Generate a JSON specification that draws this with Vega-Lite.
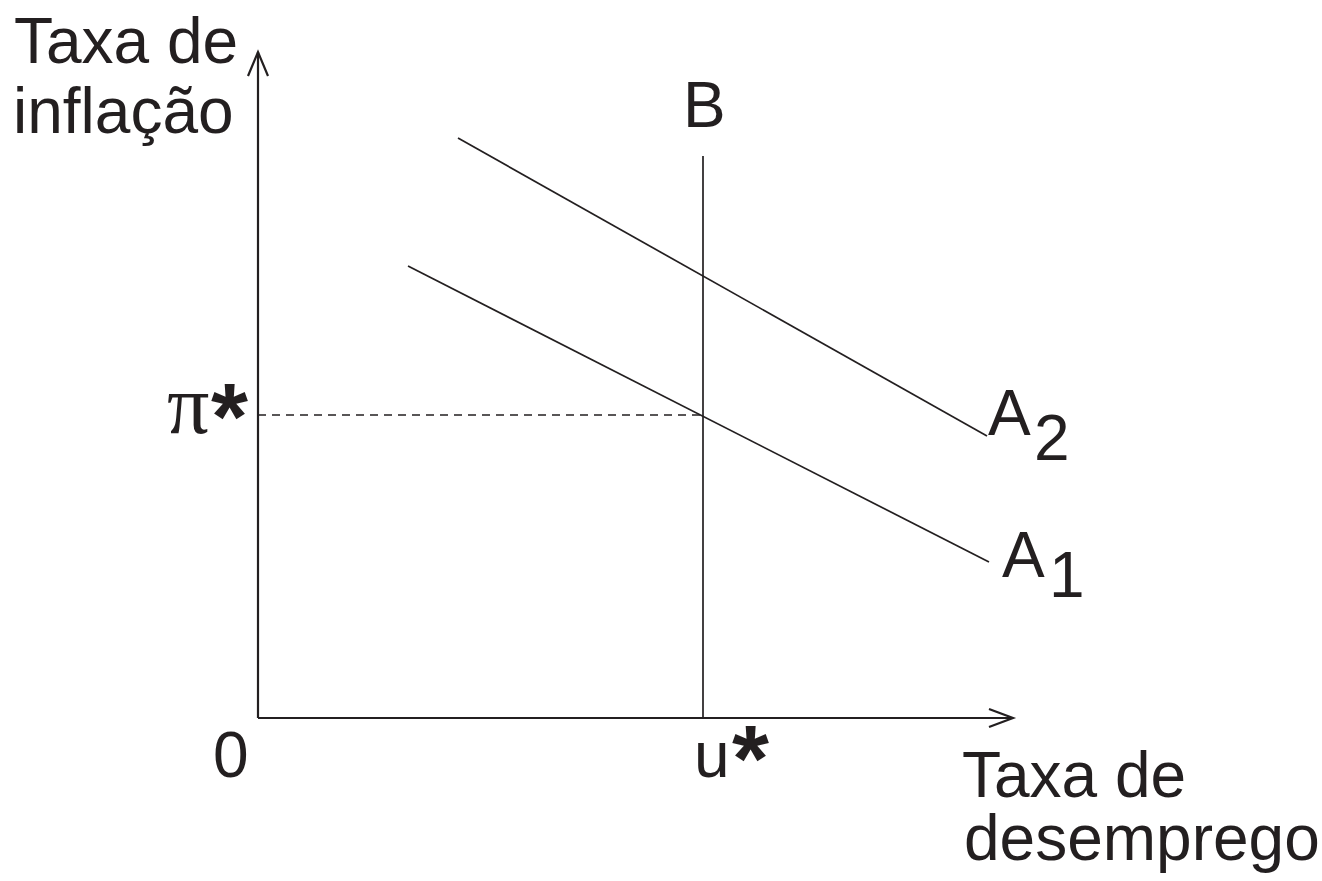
{
  "$schema": "https://vega.github.io/schema/vega-lite/v6.json",
  "width": 1322,
  "height": 881,
  "padding": 0,
  "autosize": {"type": "fit", "contains": "padding"},
  "background": "white",
  "config": {"view": {"stroke": null}},
  "datasets": {
    "lines": [
      {"id": "yaxis", "o": 0, "x": 0, "y": 0},
      {"id": "yaxis", "o": 1, "x": 0, "y": 666},
      {"id": "xaxis", "o": 0, "x": 0, "y": 0},
      {"id": "xaxis", "o": 1, "x": 755, "y": 0},
      {"id": "yarrow", "o": 0, "x": -10, "y": 642},
      {"id": "yarrow", "o": 1, "x": 0, "y": 666},
      {"id": "yarrow", "o": 2, "x": 10, "y": 642},
      {"id": "xarrow", "o": 0, "x": 731, "y": 9},
      {"id": "xarrow", "o": 1, "x": 755, "y": 0},
      {"id": "xarrow", "o": 2, "x": 731, "y": -9}
    ],
    "curves": [
      {"id": "B", "o": 0, "x": 445, "y": 0},
      {"id": "B", "o": 1, "x": 445, "y": 562},
      {"id": "A2", "o": 0, "x": 200, "y": 580},
      {"id": "A2", "o": 1, "x": 729, "y": 282},
      {"id": "A1", "o": 0, "x": 150, "y": 452},
      {"id": "A1", "o": 1, "x": 731, "y": 156}
    ],
    "dashed": [
      {"id": "pi", "o": 0, "x": 0, "y": 303},
      {"id": "pi", "o": 1, "x": 445, "y": 303}
    ],
    "labels": [
      {"label": "Taxa de", "x": -244, "y": 655},
      {"label": "inflação", "x": -245, "y": 585},
      {"label": "B", "x": 425, "y": 591},
      {"label": "A", "x": 730, "y": 283},
      {"label": "2", "x": 776, "y": 258},
      {"label": "A", "x": 744, "y": 141},
      {"label": "1", "x": 791, "y": 121},
      {"label": "0", "x": -45, "y": -59},
      {"label": "u", "x": 436, "y": -59},
      {"label": "Taxa de", "x": 704, "y": -79},
      {"label": "desemprego", "x": 706, "y": -142}
    ],
    "greek": [
      {"label": "π", "x": -91, "y": 285}
    ],
    "stars": [
      {"label": "*", "x": -47, "y": 269},
      {"label": "*", "x": 474, "y": -73}
    ]
  },
  "layer": [
    {
      "data": {"name": "lines"},
      "mark": {"type": "line", "color": "#231f20", "strokeWidth": 2.2},
      "encoding": {
        "x": {"field": "x", "type": "quantitative", "scale": {"domain": [-258, 1064], "nice": false, "zero": false}, "axis": null},
        "y": {"field": "y", "type": "quantitative", "scale": {"domain": [-163, 718], "nice": false, "zero": false}, "axis": null},
        "detail": {"field": "id"},
        "order": {"field": "o"}
      }
    },
    {
      "data": {"name": "curves"},
      "mark": {"type": "line", "color": "#231f20", "strokeWidth": 1.7},
      "encoding": {
        "x": {"field": "x", "type": "quantitative"},
        "y": {"field": "y", "type": "quantitative"},
        "detail": {"field": "id"},
        "order": {"field": "o"}
      }
    },
    {
      "data": {"name": "dashed"},
      "mark": {"type": "line", "color": "#231f20", "strokeWidth": 1.6, "strokeDash": [8, 6]},
      "encoding": {
        "x": {"field": "x", "type": "quantitative"},
        "y": {"field": "y", "type": "quantitative"},
        "detail": {"field": "id"},
        "order": {"field": "o"}
      }
    },
    {
      "data": {"name": "labels"},
      "mark": {"type": "text", "align": "left", "baseline": "alphabetic", "font": "Liberation Sans", "fontSize": 64, "color": "#231f20"},
      "encoding": {
        "x": {"field": "x", "type": "quantitative"},
        "y": {"field": "y", "type": "quantitative"},
        "text": {"field": "label"}
      }
    },
    {
      "data": {"name": "greek"},
      "mark": {"type": "text", "align": "left", "baseline": "alphabetic", "font": "Liberation Serif", "fontSize": 84, "color": "#231f20"},
      "encoding": {
        "x": {"field": "x", "type": "quantitative"},
        "y": {"field": "y", "type": "quantitative"},
        "text": {"field": "label"}
      }
    },
    {
      "data": {"name": "stars"},
      "mark": {"type": "text", "align": "left", "baseline": "alphabetic", "font": "Liberation Sans", "fontWeight": "bold", "fontSize": 95, "color": "#231f20"},
      "encoding": {
        "x": {"field": "x", "type": "quantitative"},
        "y": {"field": "y", "type": "quantitative"},
        "text": {"field": "label"}
      }
    }
  ]
}
